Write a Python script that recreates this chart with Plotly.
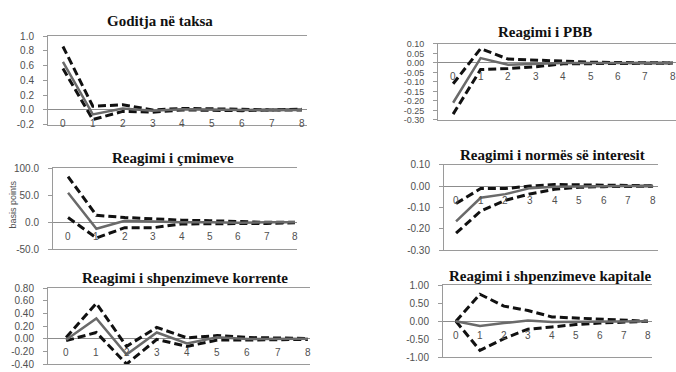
import plotly.graph_objects as go

# Impulse-response horizon (quarters after the tax shock)
periods = list(range(9))
period_labels = [str(p) for p in periods]

# Goditja në taksa
tax_mid = [0.65, -0.06, 0.02, -0.01, 0.01, 0.0, 0.0, 0.0, 0.0]
tax_hi = [0.86, 0.05, 0.07, 0.0, 0.02, 0.01, 0.01, 0.0, 0.01]
tax_lo = [0.56, -0.13, -0.02, -0.03, 0.0, -0.01, -0.01, 0.0, 0.0]
tax_ticks = [1.0, 0.8, 0.6, 0.4, 0.2, 0.0, -0.2]

# Reagimi i PBB
gdp_mid = [-0.21, 0.025, -0.01, -0.005, 0.0, 0.0, 0.0, 0.0, 0.0]
gdp_hi = [-0.11, 0.075, 0.02, 0.015, 0.008, 0.004, 0.002, 0.001, 0.0]
gdp_lo = [-0.27, -0.035, -0.03, -0.02, -0.005, -0.006, -0.003, -0.002, -0.001]
gdp_ticks = [0.10, 0.05, 0.00, -0.05, -0.10, -0.15, -0.20, -0.25, -0.30]

# Reagimi i çmimeve (basis points)
cpi_mid = [55, -12, 3, 1, 0, 0, -1, 0, 0]
cpi_hi = [85, 13, 9, 6, 4, 3, 1, 0, 0]
cpi_lo = [9, -29, -10, -10, -3, -3, -3, -2, -1]
cpi_ticks = [100.0, 50.0, 0.0, -50.0]

# Reagimi i normës së interesit
rate_mid = [-0.165, -0.055, -0.038, -0.01, -0.003, -0.001, 0.0, 0.0, 0.0]
rate_hi = [-0.082, -0.012, -0.012, 0.0, 0.007, 0.006, 0.004, 0.002, 0.001]
rate_lo = [-0.22, -0.117, -0.067, -0.037, -0.015, -0.006, -0.003, -0.002, -0.001]
rate_ticks = [0.10, 0.00, -0.10, -0.20, -0.30]

# Reagimi i shpenzimeve korrente
cur_mid = [-0.015, 0.32, -0.25, 0.10, -0.075, 0.025, -0.005, 0.0, 0.0]
cur_hi = [0.02, 0.56, -0.12, 0.18, 0.015, 0.05, 0.02, 0.01, 0.005]
cur_lo = [-0.03, 0.10, -0.40, -0.01, -0.12, -0.02, -0.02, -0.01, -0.01]
cur_ticks = [0.80, 0.60, 0.40, 0.20, 0.00, -0.20, -0.40]

# Reagimi i shpenzimeve kapitale
cap_mid = [0.0, -0.13, -0.05, 0.02, -0.02, -0.01, 0.0, 0.0, 0.0]
cap_hi = [0.0, 0.75, 0.42, 0.30, 0.12, 0.09, 0.06, 0.04, 0.0]
cap_lo = [0.0, -0.81, -0.48, -0.22, -0.16, -0.09, -0.05, -0.02, 0.0]
cap_ticks = [1.00, 0.50, 0.00, -0.50, -1.00]

W, H = 676, 372


def fx(p):
    return p / W


def fy(p):
    return 1 - p / H


# Panel layout: plot box (left, right, top, bottom) in pixels, x range, title centre,
# tick-label font size (the PBB axis is densely labelled)
panels = [
    dict(title="Goditja në taksa", mid=tax_mid, hi=tax_hi, lo=tax_lo, ticks=tax_ticks, dec=1,
         box=(48, 307, 32, 123), xr=(-0.5, 8.17), tpos=(160, 16), fs=10),
    dict(title="Reagimi i PBB", mid=gdp_mid, hi=gdp_hi, lo=gdp_lo, ticks=gdp_ticks, dec=2,
         box=(438, 676, 40, 118), xr=(-0.55, 8.11), tpos=(545, 28), fs=9),
    dict(title="Reagimi i çmimeve", mid=cpi_mid, hi=cpi_hi, lo=cpi_lo, ticks=cpi_ticks, dec=1,
         box=(53, 297, 168, 251), xr=(-0.53, 8.07), tpos=(173, 157), fs=10),
    dict(title="Reagimi i normës së interesit", mid=rate_mid, hi=rate_hi, lo=rate_lo, ticks=rate_ticks, dec=2,
         box=(444, 658, 164, 252), xr=(-0.49, 8.2), tpos=(552, 154), fs=10),
    dict(title="Reagimi i shpenzimeve korrente", mid=cur_mid, hi=cur_hi, lo=cur_lo, ticks=cur_ticks, dec=2,
         box=(48, 310, 291, 369), xr=(-0.6, 8.07), tpos=(185, 281), fs=10),
    dict(title="Reagimi i shpenzimeve kapitale", mid=cap_mid, hi=cap_hi, lo=cap_lo, ticks=cap_ticks, dec=2,
         box=(443, 652, 288, 362), xr=(-0.54, 8.17), tpos=(550, 278), fs=10),
]

AXIS_GREY = "#9a9a9a"
SANS = "Liberation Sans, Arial, sans-serif"
LABEL_GREY = "#505050"

fig = go.Figure()
layout = dict(
    width=W, height=H, margin=dict(l=0, r=0, t=0, b=0),
    paper_bgcolor="white", plot_bgcolor="white", showlegend=False,
)
annotations = []

for i, p in enumerate(panels, start=1):
    sfx = "" if i == 1 else str(i)
    xa, ya = "x" + sfx, "y" + sfx
    left, right, top, bottom = p["box"]
    tick_font = dict(family=SANS, size=p["fs"], color=LABEL_GREY)

    band = dict(color="#111111", width=3, dash="8px,4px")
    fig.add_trace(go.Scatter(x=periods, y=p["hi"], mode="lines", line=band, xaxis=xa, yaxis=ya))
    fig.add_trace(go.Scatter(x=periods, y=p["lo"], mode="lines", line=band, xaxis=xa, yaxis=ya))
    fig.add_trace(go.Scatter(x=periods, y=p["mid"], mode="lines",
                             line=dict(color="#6a6a6a", width=2.5), xaxis=xa, yaxis=ya))

    layout["xaxis" + sfx] = dict(
        domain=[fx(left), fx(right)], range=list(p["xr"]), anchor=ya,
        showline=True, mirror=True, linecolor=AXIS_GREY, linewidth=1,
        showgrid=False, zeroline=False, showticklabels=False, ticks="",
    )
    layout["yaxis" + sfx] = dict(
        domain=[fy(bottom), fy(top)], range=[min(p["ticks"]), max(p["ticks"])], anchor=xa,
        showline=True, linecolor=AXIS_GREY, linewidth=1,
        showgrid=False, zeroline=True, zerolinecolor="#8c8c8c", zerolinewidth=1,
        tickvals=p["ticks"], ticktext=[f"{v:.{p['dec']}f}" for v in p["ticks"]],
        ticks="outside", ticklen=4, tickcolor=AXIS_GREY, tickfont=tick_font,
        ticklabelstandoff=7,
    )

    # Category labels sit just under the zero line, as in a spreadsheet line chart
    for per, lab in zip(periods, period_labels):
        annotations.append(dict(
            x=per, y=0, xref=xa, yref=ya, text=lab, showarrow=False,
            yshift=-14, font=dict(family=SANS, size=10, color=LABEL_GREY),
        ))

    tx, ty = p["tpos"]
    annotations.append(dict(
        x=fx(tx), y=fy(ty), xref="paper", yref="paper", text="<b>" + p["title"] + "</b>",
        showarrow=False, xanchor="center", yanchor="middle",
        font=dict(family="Liberation Serif, Times New Roman, serif", size=15, color="#111111"),
    ))

annotations.append(dict(
    x=fx(13), y=fy(205), xref="paper", yref="paper", text="basis points", textangle=-90,
    showarrow=False, xanchor="center", yanchor="middle",
    font=dict(family=SANS, size=9, color=LABEL_GREY),
))

layout["annotations"] = annotations
fig.update_layout(**layout)
fig.write_html("out.html")
